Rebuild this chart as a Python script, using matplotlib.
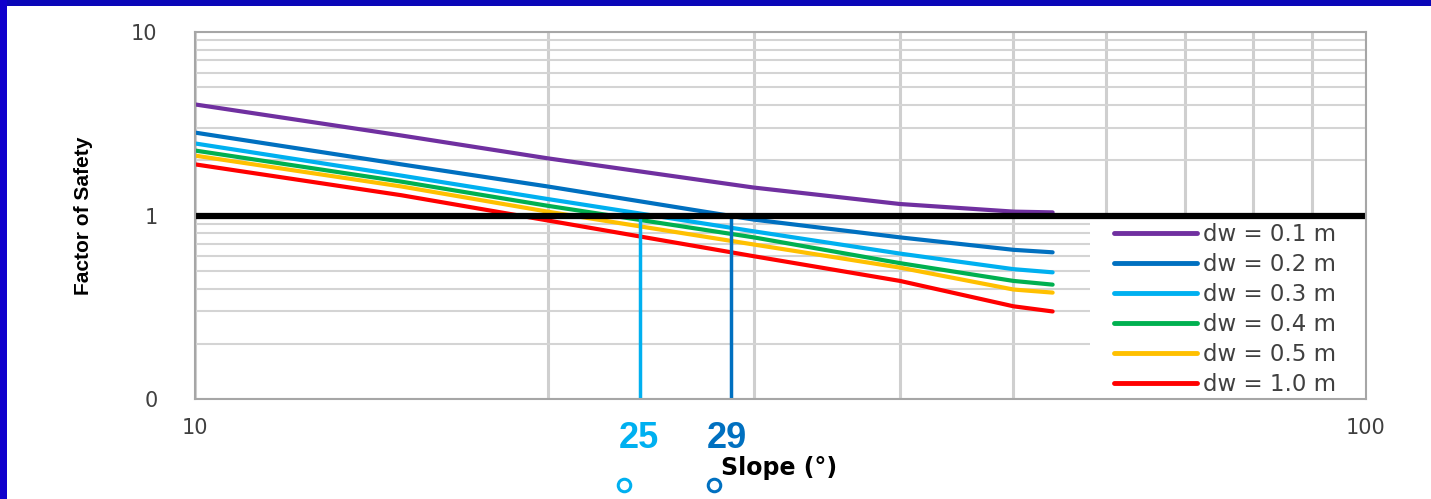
import numpy as np
import matplotlib
matplotlib.use('Agg')
import matplotlib.pyplot as plt
from matplotlib.patches import Rectangle
from matplotlib.lines import Line2D

# 数据：坡度 (°) 与安全系数
slope = [10, 15, 20, 30, 40, 50, 54]
fs_01 = [4.03, 2.73, 2.05, 1.42, 1.155, 1.05, 1.04]
fs_02 = [2.83, 1.90, 1.44, 0.95, 0.76, 0.65, 0.63]
fs_03 = [2.47, 1.65, 1.23, 0.82, 0.62, 0.51, 0.49]
fs_04 = [2.26, 1.53, 1.13, 0.76, 0.55, 0.44, 0.42]
fs_05 = [2.12, 1.44, 1.05, 0.695, 0.52, 0.395, 0.38]
fs_10 = [1.90, 1.29, 0.94, 0.60, 0.44, 0.32, 0.30]
labels = ['dw = 0.1 m', 'dw = 0.2 m', 'dw = 0.3 m', 'dw = 0.4 m', 'dw = 0.5 m', 'dw = 1.0 m']
colors = ['#7030A0', '#0070C0', '#00B0F0', '#00B050', '#FFC000', '#FF0000']

# 临界坡度标记
crit_x = [24.0, 28.7]
crit_text = ['25', '29']
crit_colors = ['#00B0F0', '#0070C0']

fig = plt.figure(figsize=(14.31, 4.99), dpi=100)
fig.patch.set_facecolor('white')

# 幻灯片蓝色边框
fig.patches.append(Rectangle((0, 1 - 6 / 499), 1, 6 / 499, transform=fig.transFigure,
                             facecolor='#0A06B8', edgecolor='none', zorder=0))
fig.patches.append(Rectangle((0, 0), 7 / 1431, 1, transform=fig.transFigure,
                             facecolor='#1000CC', edgecolor='none', zorder=0))

ax = fig.add_axes([195 / 1431, 100 / 499, 1171 / 1431, 367 / 499])
ax.set_xscale('log')
ax.set_yscale('log')
ax.set_xlim(10, 100)
ax.set_ylim(0.1, 10)

# 网格
ax.grid(True, which='both', axis='y', color='#D4D4D4', linewidth=1.5)
ax.grid(True, which='both', axis='x', color='#CFCFCF', linewidth=2.2)
ax.set_axisbelow(True)
for s in ax.spines.values():
    s.set_color('#A6A6A6')
    s.set_linewidth(1.5)
    s.set_zorder(8)
ax.tick_params(which='both', length=0)

ax.set_xticks([10, 100])
ax.set_xticklabels(['10', '100'])
ax.set_yticks([0.1, 1, 10])
ax.set_yticklabels(['0', '1', '10'])
ax.set_xticks([20, 30, 40, 50, 60, 70, 80, 90], minor=True)
ax.set_xticklabels([''] * 8, minor=True)
ax.set_yticks([0.2, 0.3, 0.4, 0.5, 0.6, 0.7, 0.8, 0.9, 2, 3, 4, 5, 6, 7, 8, 9], minor=True)
ax.set_yticklabels([''] * 16, minor=True)
ax.tick_params(axis='x', which='major', labelsize=15, labelcolor='#404040', pad=14)
ax.tick_params(axis='y', which='major', labelsize=15, labelcolor='#404040', pad=27)

# 安全系数 = 1
ax.plot([10, 100], [1, 1], color='black', linewidth=4.5, zorder=7)

series = [fs_01, fs_02, fs_03, fs_04, fs_05, fs_10]
for ys, lab, c in zip(series, labels, colors):
    ax.plot(slope, ys, color=c, linewidth=3, label=lab, solid_capstyle='round', zorder=4)

for xv, c in zip(crit_x, crit_colors):
    ax.plot([xv, xv], [0.1, 1], color=c, linewidth=2.5, zorder=5)

# 图例底板（覆盖网格）
ax.add_patch(Rectangle(((1090 - 195) / 1171, 0), (1366 - 1090) / 1171, (399 - 218) / 367,
                       transform=ax.transAxes, facecolor='white', edgecolor='none', zorder=5.5))

leg = ax.legend(loc='lower right', bbox_to_anchor=((1340 - 195) / 1171, 0.0), fontsize=16.5,
                frameon=False, borderaxespad=0.0, handlelength=3.6,
                labelspacing=0.30, borderpad=0.15, handletextpad=0.3)
leg.set_zorder(6)
for t in leg.get_texts():
    t.set_color('#404040')
for h in leg.get_lines():
    h.set_linewidth(3.5)

ax.set_ylabel('Factor of Safety', fontsize=15, fontweight='bold', family='Liberation Sans')
ax.yaxis.set_label_coords((84 - 195) / 1171, (399 - 216) / 367)
ax.set_xlabel('Slope (°)', fontsize=17, fontweight='bold')
ax.xaxis.set_label_coords((779 - 195) / 1171, -(468 - 399) / 367)
ax.xaxis.label.set_va('center')
ax.yaxis.label.set_va('center')

# 临界坡度注释
for txt, c, px in zip(crit_text, crit_colors, [639, 727]):
    fig.text(px / 1431, 1 - 438 / 499, txt, color=c, fontsize=26, fontweight='bold',
             family='Liberation Sans', ha='center', va='center')
for c, px in zip(crit_colors, [624, 714]):
    fig.add_artist(Line2D([px / 1431], [1 - 485 / 499], transform=fig.transFigure,
                          marker='o', markersize=9, markerfacecolor='white',
                          markeredgecolor=c, markeredgewidth=2.2, linestyle='none'))

fig.savefig('out.png', dpi=100)
